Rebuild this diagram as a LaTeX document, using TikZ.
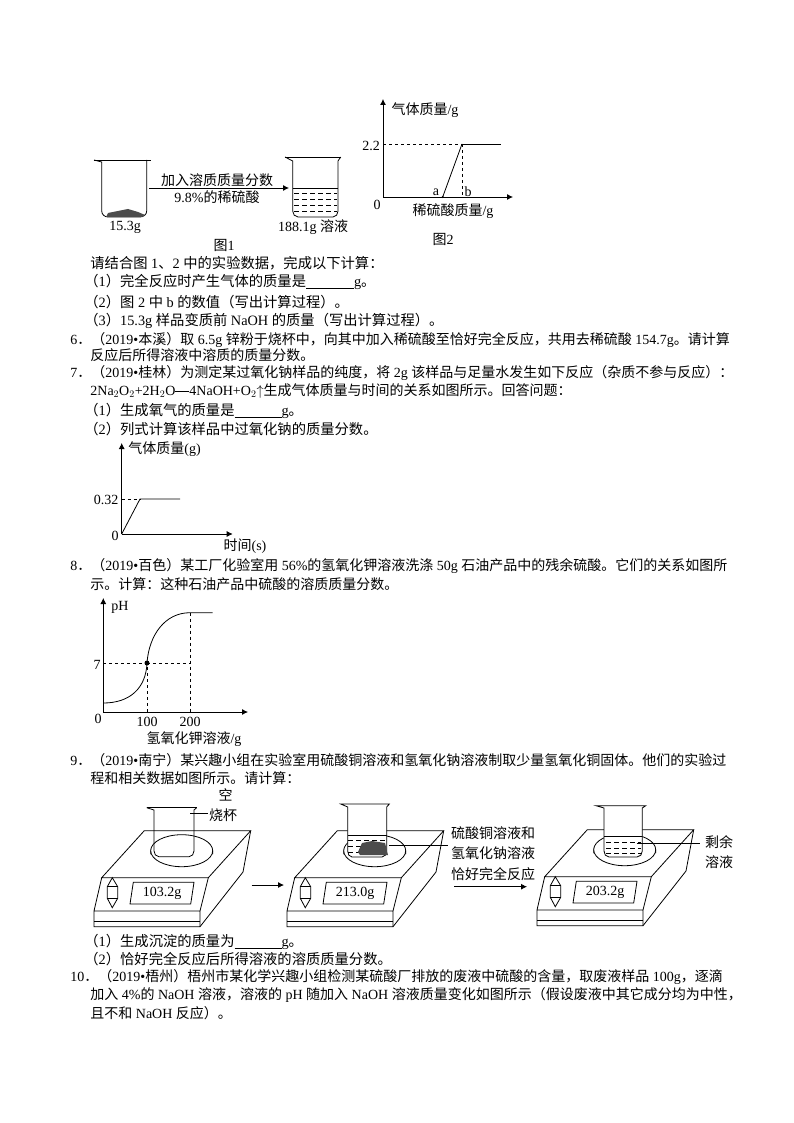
\documentclass[tikz,border=0pt]{standalone}
\usepackage{fontspec}
\setmainfont{Liberation Serif}
\newfontfamily\cjk{Noto Sans CJK SC}
\usetikzlibrary{positioning}
\usetikzlibrary{arrows.meta}
% CJK characters switch font by themselves
\newXeTeXintercharclass\cjkclass
\makeatletter
\count@="4E00
\loop\ifnum\count@<"A000
  \XeTeXcharclass\count@=\cjkclass
  \advance\count@ by 1
\repeat
\makeatother
\XeTeXcharclass"3001=\cjkclass
\XeTeXcharclass"3002=\cjkclass
\XeTeXcharclass"FF08=\cjkclass
\XeTeXcharclass"FF09=\cjkclass
\XeTeXcharclass"FF0C=\cjkclass
\XeTeXcharclass"FF0E=\cjkclass
\XeTeXcharclass"FF1A=\cjkclass
\XeTeXinterchartoks 0 \cjkclass = {\cjk}
\XeTeXinterchartoks 4095 \cjkclass = {\cjk}
\XeTeXinterchartoks \cjkclass 0 = {\rmfamily}
\XeTeXinterchartoks \cjkclass 4095 = {\rmfamily}
\XeTeXinterchartokenstate=1
\newcommand{\blank}[1]{\underline{\hspace{#1}}}
\tikzset{
    txtline/.style = {anchor=west, inner sep=0pt, font=\fontsize{14}{16}\selectfont},
    txtwide/.style = {txtline, font=\fontsize{14.3}{16}\selectfont},
    lbl/.style = {inner sep=0pt, font=\fontsize{14}{16}\selectfont},
    axisline/.style = {-{Latex[length=6pt,width=6pt]}},
    liquid/.style = {dashed, dash pattern=on 5pt off 3pt},
    pics/balance/.style = {code={
        \draw (101.7,877.7) -- (144.3,830.7) -- (250.7,830.7) -- (208.3,877.7) -- cycle;
        \draw (250.7,830.7) -- (243,872) -- (200,926.7);
        \draw (208.3,877.7) -- (200,911);
        \draw (101.7,877.7) -- (94,911) -- (94,926.7) -- (200,926.7) -- (200,911) -- (94,911);
        \draw (94,921) -- (200,921);
        \draw[fill=white] (150.7,851.7) arc[start angle=180, end angle=360, x radius=31, y radius=16] -- ++(0,2.5)
            arc[start angle=360, end angle=180, x radius=31, y radius=16] -- cycle;
        \draw[fill=white] (181.7,850.7) ellipse[x radius=31, y radius=16];
        \draw[fill=white] (112.3,877.7) -- (117.7,886.7) -- (117.7,898.3) -- (112.3,907.7) -- (107.3,898.3) -- (107.3,886.7) -- cycle;
        \draw (107.3,886.7) -- (117.7,886.7) (107.3,898.3) -- (117.7,898.3);
        \draw (133.3,882.3) -- (194,882.3) -- (190.7,904) -- (130,904) -- cycle;
        \node[lbl] (readout) at (162,893) {#1};
    }},
}
\begin{document}
\begin{tikzpicture}[x=1pt, y=-1pt, line width=0.8pt]
\useasboundingbox (0,0) rectangle (794,1123);
\fill[white] (0,0) rectangle (794,1123);
% figure 1
\draw (94,160) -- (101.7,162) -- (101.7,211) to[out=270,in=180] (108,217) -- (140,217) to[out=0,in=270] (146.7,211) -- (146.7,160);
\draw (94,160) -- (150.7,160);
\fill[black!70] (106,217) -- (108,213) -- (118,211) -- (128,209) -- (138,212) -- (145,215) -- (142,217) -- cycle;
\node[lbl] (m1) at (125,227) {15.3g};
\draw (285,157) -- (340.7,157);
\draw (285,157) -- (292.7,161) -- (292.7,211) to[out=270,in=180] (298,217) -- (333,217) to[out=0,in=270] (338,211) -- (338,161) -- (340.7,157);
\draw (292.7,188) -- (338,188);
\draw[liquid] (294,193) -- (337,193);
\draw[liquid] (294,199) -- (337,199);
\draw[liquid] (294,205) -- (337,205);
\draw[liquid] (294,211) -- (337,211);
\node[lbl] (m2) at (313,227) {188.1g 溶液};
\coordinate (a1) at (149,188);
\coordinate (a2) at (289,188);
\draw[axisline] (a1) -- (a2);
\node[lbl] (add1) at (217,180) {加入溶质质量分数};
\node[lbl] (add2) at (217,197) {9.8\%的稀硫酸};
\node[lbl] (f1) at (224,245) {图1};
% figure 2
\coordinate (o2) at (383,197);
\coordinate (y2) at (383,99);
\coordinate (x2) at (513,197);
\coordinate (p2) at (462,144);
\coordinate (q2) at (462,197);
\coordinate (r2) at (500.7,144);
\coordinate (s2) at (383,144);
\coordinate (t2) at (442.7,197);
\draw[axisline] (o2) -- (y2);
\draw[axisline] (o2) -- (x2);
\draw[dashed] (s2) -- (p2);
\draw[dashed] (p2) -- (q2);
\draw (p2) -- (r2);
\draw (t2) -- (p2);
\fill (t2) circle (1.2);
\node[lbl] (v22) at (371,146) {2.2};
\node[lbl] (a) at (436,192) {a};
\node[lbl] (b) at (468,192) {b};
\node[lbl] (zero2) at (377,205) {0};
\node[lbl] (ylab2) at (425,110) {气体质量/g};
\node[lbl] (xlab2) at (453,211) {稀硫酸质量/g};
\node[lbl] (f2) at (443,239) {图2};
% question text
\node[txtwide] (l1) at (90,263) {请结合图 1、2 中的实验数据，完成以下计算：};
\node[txtwide] (l2) at (84,282) {（1）完全反应时产生气体的质量是\blank{48pt}g。};
\node[txtwide] (l3) at (84,302) {（2）图 2 中 b 的数值（写出计算过程）。};
\node[txtwide] (l4) at (84,321) {（3）15.3g 样品变质前 NaOH 的质量（写出计算过程）。};
\node[txtline] (l5) at (70,340) {6．（2019•本溪）取 6.5g 锌粉于烧杯中，向其中加入稀硫酸至恰好完全反应，共用去稀硫酸 154.7g。请计算};
\node[txtline] (l6) at (90,355) {反应后所得溶液中溶质的质量分数。};
\node[txtline] (l7) at (70,373) {7．（2019•桂林）为测定某过氧化钠样品的纯度，将 2g 该样品与足量水发生如下反应（杂质不参与反应）：};
\node[txtline] (l8) at (90,391) {2Na$_2$O$_2$+2H$_2$O\rule[3.5pt]{14pt}{1.4pt}4NaOH+O$_2$$\uparrow$生成气体质量与时间的关系如图所示。回答问题：};
\node[txtwide] (l9) at (84,411) {（1）生成氧气的质量是\blank{47pt}g。};
\node[txtwide] (l10) at (84,429) {（2）列式计算该样品中过氧化钠的质量分数。};
% figure 3
\coordinate (o3) at (121.7,534);
\coordinate (y3) at (121.7,443);
\coordinate (x3) at (232.7,534);
\coordinate (p3) at (140,499);
\coordinate (r3) at (180,499);
\coordinate (s3) at (121.7,499);
\draw[axisline] (o3) -- (y3);
\draw[axisline] (o3) -- (x3);
\draw[dashed] (s3) -- (p3);
\draw (o3) -- (p3) -- (r3);
\node[lbl] (v32) at (106,500) {0.32};
\node[lbl] (zero3) at (115,536) {0};
\node[lbl, anchor=west] (ylab3) at (128,449) {气体质量(g)};
\node[lbl] (xlab3) at (245,546) {时间(s)};
\node[txtline] (l11) at (70,566) {8．（2019•百色）某工厂化验室用 56\%的氢氧化钾溶液洗涤 50g 石油产品中的残余硫酸。它们的关系如图所};
\node[txtline] (l12) at (90,584) {示。计算：这种石油产品中硫酸的溶质质量分数。};
% figure 4
\coordinate (o4) at (103.3,712);
\coordinate (y4) at (103.3,598);
\coordinate (x4) at (248,712);
\coordinate (s4) at (103.3,663);
\coordinate (p4) at (147,663);
\coordinate (q4) at (147,712);
\coordinate (t4) at (190,612.7);
\coordinate (u4) at (190,712);
\coordinate (v4) at (212.7,612.7);
\coordinate (w4) at (103.3,703);
\draw[axisline] (o4) -- (y4);
\draw[axisline] (o4) -- (x4);
\draw[dashed] (s4) -- (p4) -- (q4);
\draw[dashed] (p4) -- (190,663);
\draw[dashed] (t4) -- (u4);
\draw (w4) .. controls (130,703) and (146,688) .. (147,663) .. controls (149,635) and (165,612.7) .. (t4) -- (v4);
\fill (p4) circle (2.5);
\node[lbl] (ph) at (120,607) {pH};
\node[lbl] (seven) at (97,665) {7};
\node[lbl] (zero4) at (98,719) {0};
\node[lbl] (h1) at (147,722) {100};
\node[lbl] (h2) at (190,722) {200};
\node[lbl] (xlab4) at (194,739) {氢氧化钾溶液/g};
\node[txtline] (l13) at (70,760) {9．（2019•南宁）某兴趣小组在实验室用硫酸铜溶液和氢氧化钠溶液制取少量氢氧化铜固体。他们的实验过};
\node[txtline] (l14) at (90,778) {程和相关数据如图所示。请计算：};
% balances
\pic at (0,0) {balance=103.2g};
\pic at (193,0) {balance=213.0g};
\pic at (443,-1) {balance=203.2g};
\draw (146.7,807.7) -- (196.7,807.7);
\draw (146.7,807.7) -- (154,810) -- (154,851) to[out=270,in=180] (159,856.7) -- (189,856.7) to[out=0,in=270] (194,851) -- (194,810) -- (196.7,807.7);
\coordinate (c1) at (190,813);
\coordinate (c2) at (208,813);
\draw (c1) -- (c2);
\node[lbl] (kong) at (225.7,795) {空};
\node[lbl] (cup) at (223,815) {烧杯};
\coordinate (a3) at (251.7,885);
\coordinate (a4) at (284,885);
\draw[axisline] (a3) -- (a4);
% second beaker
\draw[fill=white] (340.7,804) -- (347.7,807) -- (347.7,851) to[out=270,in=180] (352,857) -- (382,857) to[out=0,in=270] (386.7,851) -- (386.7,807) -- (389.3,804) -- cycle;
\draw (347.7,835.7) -- (386.7,835.7);
\draw[liquid] (348,840) -- (386,840);
\draw[liquid] (348,846) -- (386,846);
\draw[liquid] (348,852) -- (386,852);
\fill[black!70] (358,852) -- (362,843) -- (372,841) -- (385,843) -- (388,855) -- (360,855) -- cycle;
\coordinate (c3) at (389,845);
\coordinate (c4) at (448,845);
\draw (c3) -- (c4);
\node[lbl] (t1) at (493,832.7) {硫酸铜溶液和};
\node[lbl] (t2) at (493,852.7) {氢氧化钠溶液};
\node[lbl] (t3) at (493,874) {恰好完全反应};
\coordinate (a5) at (454,886.7);
\coordinate (a6) at (527,886.7);
\draw[axisline] (a5) -- (a6);
% third beaker
\draw[fill=white] (596,805.7) -- (604,808) -- (604,851) to[out=270,in=180] (609,857) -- (637,857) to[out=0,in=270] (642.3,851) -- (642.3,808) -- (645.7,805.7) -- cycle;
\draw (604,836) -- (642.3,836);
\draw[liquid] (606,842) -- (641,842);
\draw[liquid] (606,848) -- (641,848);
\draw[liquid] (606,853) -- (641,853);
\coordinate (c5) at (636.7,843.3);
\coordinate (c6) at (700,843.3);
\draw (c5) -- (c6);
\node[lbl] (rest1) at (719,841.7) {剩余};
\node[lbl] (rest2) at (719,861.7) {溶液};
% last lines
\node[txtwide] (l15) at (84,942) {（1）生成沉淀的质量为\blank{47pt}g。};
\node[txtwide] (l16) at (84,959) {（2）恰好完全反应后所得溶液的溶质质量分数。};
\node[txtline] (l17) at (70,977) {10．（2019•梧州）梧州市某化学兴趣小组检测某硫酸厂排放的废液中硫酸的含量，取废液样品 100g，逐滴};
\node[txtline] (l18) at (90,995) {加入 4\%的 NaOH 溶液，溶液的 pH 随加入 NaOH 溶液质量变化如图所示（假设废液中其它成分均为中性，};
\node[txtline] (l19) at (90,1013) {且不和 NaOH 反应）。};
\end{tikzpicture}
\end{document}
